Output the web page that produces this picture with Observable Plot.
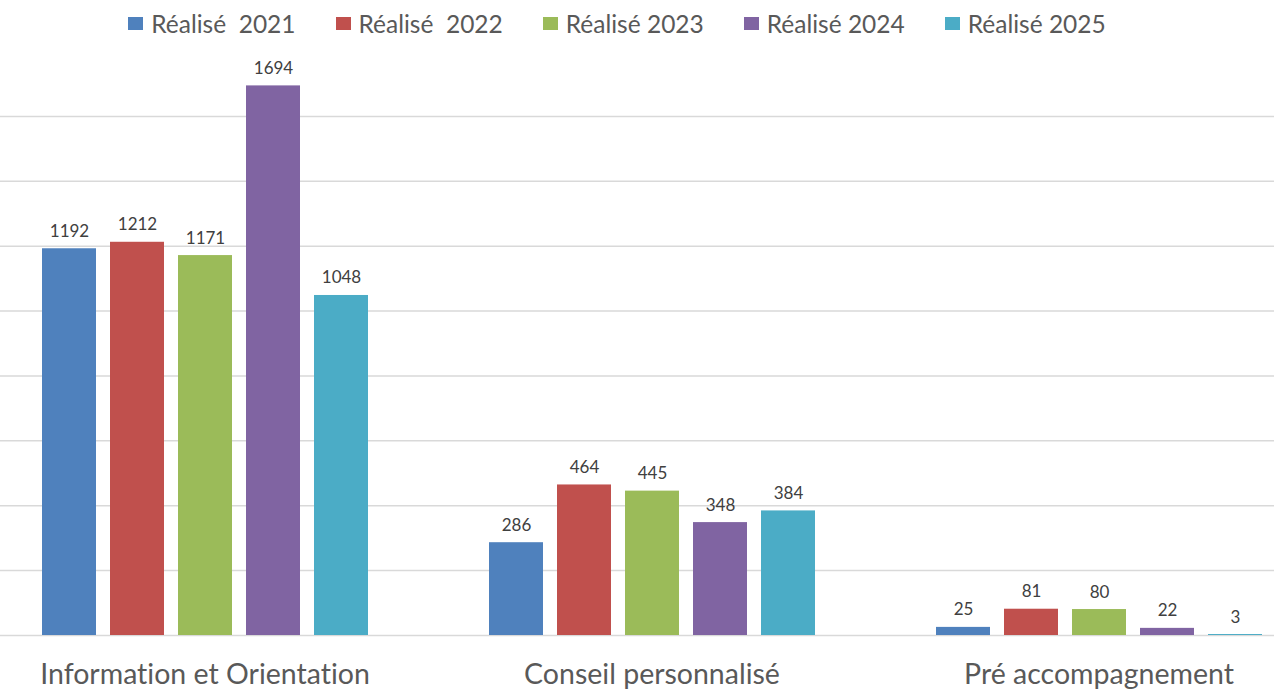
<!DOCTYPE html>
<html>
<head>
<meta charset="utf-8">
<script src="https://cdn.jsdelivr.net/npm/d3@7"></script>
<script src="https://cdn.jsdelivr.net/npm/@observablehq/plot@0.6"></script>
<style>
  html, body { margin: 0; padding: 0; background: #fff; }
  body { width: 1274px; height: 690px; overflow: hidden; font-family: Lato, "Open Sans", sans-serif; font-variant-ligatures: none; }
  #legend {
    height: 48px; display: flex; justify-content: center; align-items: center;
    gap: 40px; padding-right: 40px; box-sizing: border-box;
    font-size: 24.5px; color: #595959; line-height: 1.2; white-space: pre;
  }
  #legend .item { display: flex; align-items: center; }
  #legend .sw { width: 15px; height: 13px; margin-right: 8px; margin-top: -1px; }
  #chart svg { display: block; font-variant-ligatures: none; }
</style>
</head>
<body>
<div id="legend"></div>
<div id="chart"></div>
<script>
const categories = ["Information et Orientation", "Conseil personnalisé", "Pré accompagnement"];
const seriesNames = ["Réalisé  2021", "Réalisé  2022", "Réalisé 2023", "Réalisé 2024", "Réalisé 2025"];
const values2021 = [1192, 286, 25];
const values2022 = [1212, 464, 81];
const values2023 = [1171, 445, 80];
const values2024 = [1694, 348, 22];
const values2025 = [1048, 384, 3];
const seriesColors = ["#4f81bd", "#c0504d", "#9bbb59", "#8064a2", "#4bacc6"];
const gridTicks = [0, 200, 400, 600, 800, 1000, 1200, 1400, 1600];

const seriesValues = [values2021, values2022, values2023, values2024, values2025];
const data = [];
categories.forEach((c, i) => {
  seriesNames.forEach((s, j) => {
    data.push({category: c, series: s, value: seriesValues[j][i]});
  });
});

// Legend
const legend = document.getElementById("legend");
seriesNames.forEach((s, j) => {
  const item = document.createElement("div");
  item.className = "item";
  const sw = document.createElement("span");
  sw.className = "sw";
  sw.style.background = seriesColors[j];
  const t = document.createElement("span");
  t.textContent = s;
  item.appendChild(sw);
  item.appendChild(t);
  legend.appendChild(item);
});

const chart = Plot.plot({
  width: 1274,
  height: 642,
  marginTop: 3,
  marginBottom: 55,
  marginLeft: 0,
  marginRight: 0,
  style: {fontFamily: "Lato, 'Open Sans', sans-serif", fontSize: "28.5px", color: "#595959", background: "#fff", overflow: "visible"},
  fx: {domain: categories, range: [-19, 1322], paddingInner: 0, paddingOuter: 0, axis: "bottom", tickSize: 0, tickPadding: 28, label: null},
  x: {domain: seriesNames, paddingInner: 0.213, paddingOuter: 0.864, axis: null},
  y: {domain: [0, 1800], axis: null},
  color: {domain: seriesNames, range: seriesColors},
  marks: [
    Plot.ruleY(gridTicks, {stroke: "#d9d9d9", strokeWidth: 1.5}),
    Plot.barY(data, {fx: "category", x: "series", y: "value", fill: "series"}),
    Plot.text(data, {fx: "category", x: "series", y: "value", text: d => String(d.value), lineAnchor: "bottom", dy: -12, fontSize: 17, fill: "#404040"})
  ]
});
document.getElementById("chart").appendChild(chart);
</script>
</body>
</html>
